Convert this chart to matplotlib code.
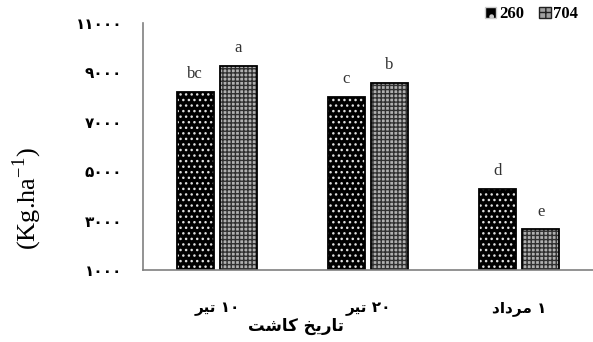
import numpy as np
import matplotlib
matplotlib.use('Agg')
import matplotlib.pyplot as plt
from matplotlib.patches import Patch

# planting dates (visual order, pre-shaped Persian text)
dates = ['\uFEAE\uFEF4\uFE97 \u06F1\u06F0',
         '\uFEAE\uFEF4\uFE97 \u06F2\u06F0',
         '\uFEA9\uFE8D\uFEA9\uFEAE\uFEE3 \u06F1']
xlabel = '\uFE96\uFEB7\uFE8E\uFB90 \uFEA6\uFEF3\uFEAD\uFE8E\uFE97'
cultivars = ['260', '704']
yield_260 = [8220, 8020, 4270]
yield_704 = [9260, 8560, 2650]
letters_260 = ['bc', 'c', 'd']
letters_704 = ['a', 'b', 'e']
yticks = [1000, 3000, 5000, 7000, 9000, 11000]
ytick_labels = ['\u06F1\u06F0\u06F0\u06F0', '\u06F3\u06F0\u06F0\u06F0', '\u06F5\u06F0\u06F0\u06F0',
                '\u06F7\u06F0\u06F0\u06F0', '\u06F9\u06F0\u06F0\u06F0', '\u06F1\u06F1\u06F0\u06F0\u06F0']

fig = plt.figure(figsize=(5.93, 3.42), dpi=100)
ax = fig.add_axes([0.241, 0.2105, 0.759, 0.7225])

x = np.arange(len(dates))
w = 0.243
off = 0.143
ax.bar(x - off, np.array(yield_260) - 1000, w, bottom=1000,
       color='black', edgecolor='#e0e0e0', hatch='...', lw=0)
ax.bar(x - off, np.array(yield_260) - 1000, w, bottom=1000, fill=False, edgecolor='black', lw=1.3)
ax.bar(x + off, np.array(yield_704) - 1000, w, bottom=1000,
       color='#b0b0b0', edgecolor='#303030', hatch='++++', lw=0)
ax.bar(x + off, np.array(yield_704) - 1000, w, bottom=1000, fill=False, edgecolor='black', lw=1.3)

for xi, v, t in zip(x - off, yield_260, letters_260):
    ax.annotate(t, (xi, v), xytext=(0, 7), textcoords='offset points', ha='center', va='bottom',
                family='Liberation Serif', fontsize=12, color='#333333')
for xi, v, t in zip(x + off, yield_704, letters_704):
    ax.annotate(t, (xi, v), xytext=(0, 7), textcoords='offset points', ha='center', va='bottom',
                family='Liberation Serif', fontsize=12, color='#333333')

ax.set_xlim(-0.49, 2.49)
ax.set_ylim(1000, 11000)
ax.set_yticks(yticks)
ax.set_yticklabels(ytick_labels, family='DejaVu Sans', fontweight='bold', fontsize=11)
ax.set_xticks(x)
ax.set_xticklabels(dates, family='DejaVu Sans', fontweight='bold', fontsize=11)
ax.tick_params(axis='y', length=0, pad=15)
ax.tick_params(axis='x', length=0, pad=22)
for s in ['top', 'right']:
    ax.spines[s].set_visible(False)
for s in ['left', 'bottom']:
    ax.spines[s].set_color('#808080')
    ax.spines[s].set_linewidth(1.2)

fig.text(296 / 593, 1 - 326 / 342, xlabel, family='DejaVu Sans', fontweight='bold', fontsize=12,
         ha='center', va='center')
fig.text(27 / 593, 1 - 199 / 342, '(Kg.ha$^{\\mathregular{-1}}$)', family='Liberation Serif',
         fontsize=19, rotation=90, ha='center', va='center')

handles = [Patch(facecolor='black', edgecolor='#cccccc', hatch='.'),
           Patch(facecolor='#a0a0a0', edgecolor='#202020', hatch='++')]
fig.legend(handles, cultivars, loc='upper right', bbox_to_anchor=(1.0, 1.025), ncol=2, frameon=False,
           handlelength=0.7, handleheight=0.7, handletextpad=0.15, columnspacing=0.9,
           prop={'family': 'Liberation Serif', 'weight': 'bold', 'size': 12})

fig.savefig('out.png', dpi=100)
